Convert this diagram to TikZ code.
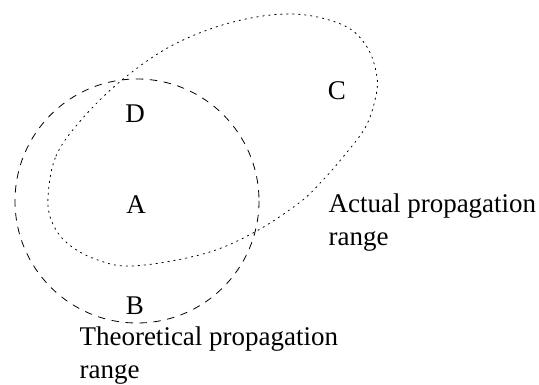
\documentclass[tikz,border=0pt]{standalone}
\usepackage{fontspec}
\setmainfont{Liberation Serif}
\begin{document}
\begin{tikzpicture}[x=1pt,y=-1pt,line cap=round,line join=round,
  theory/.style={line width=0.8pt,dash pattern=on 7pt off 7pt},
  actual/.style={line width=0.8pt,dash pattern=on 1.5pt off 4.5pt},
  area/.style={font=\fontsize{27}{33}\selectfont},
  caption/.style={font=\fontsize{27}{33}\selectfont,align=left,anchor=west}]
\useasboundingbox (0,0) rectangle (539,385);

% theoretical range
\draw[theory] (137,201) circle (122);

% actual range
\draw[actual] plot[smooth cycle,tension=0.6] coordinates {
  (48,197) (56,156) (82,119) (122,80) (173,45) (233,22) (293,14)
  (343,25) (367,47) (377,77) (375,100) (365,128) (343,157) (323,180)
  (299,203) (253,233) (203,254) (133,266) (95,259) (67,243) (52,222)};

\node[area] (regA) at (136,205) {A};
\node[area] (regB) at (135,306) {B};
\node[area] (regC) at (337,91) {C};
\node[area] (regD) at (135,114) {D};

\node[caption] (actualLbl) at (325,223) {Actual propagation\\range};
\node[caption] (theoryLbl) at (76,356) {Theoretical propagation\\range};
\end{tikzpicture}
\end{document}
